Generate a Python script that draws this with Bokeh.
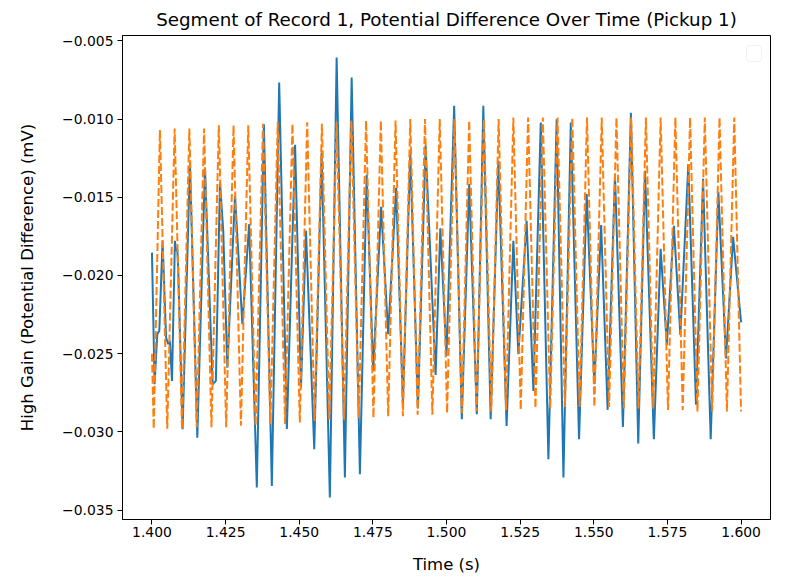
from bokeh.plotting import figure
from bokeh.models import Range1d, FixedTicker, CustomJSTickFormatter, BoxAnnotation
from bokeh.embed import file_html
from bokeh.resources import INLINE

TITLE = "Segment of Record 1, Potential Difference Over Time (Pickup 1)"
X_LABEL = "Time (s)"
Y_LABEL = "High Gain (Potential Difference) (mV)"

x_ticks = [1.400, 1.425, 1.450, 1.475, 1.500, 1.525, 1.550, 1.575, 1.600]
y_ticks = [-0.035, -0.030, -0.025, -0.020, -0.015, -0.010, -0.005]

blue_t = [1.4000, 1.4009, 1.4018, 1.4025, 1.4036, 1.4048, 1.4055, 1.4061, 1.4068, 1.4078,
          1.4082, 1.4086, 1.4089, 1.4104, 1.4129, 1.4154, 1.4180, 1.4206, 1.4217, 1.4231,
          1.4242, 1.4256, 1.4282, 1.4307, 1.4330, 1.4356, 1.4380, 1.4407, 1.4432, 1.4458,
          1.4486, 1.4506, 1.4523, 1.4551, 1.4576, 1.4604, 1.4627, 1.4655, 1.4678, 1.4706,
          1.4729, 1.4751, 1.4778, 1.4802, 1.4829, 1.4852, 1.4877, 1.4903, 1.4929, 1.4963,
          1.4979, 1.5000, 1.5026, 1.5052, 1.5077, 1.5103, 1.5125, 1.5150, 1.5176, 1.5204,
          1.5227, 1.5244, 1.5272, 1.5295, 1.5320, 1.5346, 1.5374, 1.5397, 1.5422, 1.5450,
          1.5476, 1.5502, 1.5525, 1.5547, 1.5572, 1.5599, 1.5626, 1.5651, 1.5674, 1.5704,
          1.5727, 1.5748, 1.5772, 1.5794, 1.5821, 1.5847, 1.5871, 1.5897, 1.5923, 1.5949,
          1.5973, 1.6000]
blue_v = [-0.01854, -0.02695, -0.02375, -0.02354, -0.01779, -0.02397, -0.02439, -0.02418, -0.02674, -0.01779,
          -0.01843, -0.01832, -0.01950, -0.02983, -0.01280, -0.03037, -0.01310, -0.02695, -0.02674, -0.01406,
          -0.01715, -0.02589, -0.01491, -0.02311, -0.01672, -0.03356, -0.01033, -0.03345, -0.00767, -0.02981,
          -0.01165, -0.02717, -0.01715, -0.03111, -0.01214, -0.03420, -0.00607, -0.03292, -0.00735, -0.03271,
          -0.01357, -0.02610, -0.01561, -0.02375, -0.01440, -0.02818, -0.01213, -0.02850, -0.01171, -0.02636,
          -0.01699, -0.02514, -0.00916, -0.02919, -0.01416, -0.02887, -0.00916, -0.02919, -0.01267, -0.02962,
          -0.01779, -0.02503, -0.01651, -0.02738, -0.01022, -0.03175, -0.01001, -0.03292, -0.01022, -0.03047,
          -0.01480, -0.02695, -0.01677, -0.02859, -0.01357, -0.02968, -0.00960, -0.03074, -0.01331, -0.03047,
          -0.01830, -0.02444, -0.01683, -0.02380, -0.01288, -0.02827, -0.01382, -0.03047, -0.01465, -0.02530,
          -0.01753, -0.02300]

# Orange dashed series: crests and troughs
orange_peak_t = [1.4027, 1.4077, 1.4127, 1.4177, 1.4227, 1.4277, 1.4327, 1.4377, 1.4427, 1.4477,
                 1.4527, 1.4577, 1.4627, 1.4677, 1.4727, 1.4777, 1.4827, 1.4877, 1.4927, 1.4977,
                 1.5027, 1.5077, 1.5127, 1.5177, 1.5227, 1.5277, 1.5327, 1.5377, 1.5427, 1.5477,
                 1.5527, 1.5577, 1.5627, 1.5677, 1.5727, 1.5777, 1.5827, 1.5877, 1.5927, 1.5977]
orange_peak_v = [-0.0107, -0.0106, -0.0106, -0.0106, -0.0104, -0.0104, -0.0104, -0.0103, -0.0102, -0.0103,
                 -0.0102, -0.0103, -0.0102, -0.0101, -0.0101, -0.0101, -0.0101, -0.0100, -0.0100, -0.0100,
                 -0.0100, -0.0101, -0.0100, -0.0100, -0.0099, -0.0099, -0.0099, -0.0099, -0.0099, -0.0099,
                 -0.0099, -0.0099, -0.0099, -0.0099, -0.0099, -0.0099, -0.0099, -0.0099, -0.0099, -0.0099]
orange_low_t = [1.4000, 1.4006,
                1.4052, 1.4102, 1.4152, 1.4202, 1.4252, 1.4302, 1.4352, 1.4402, 1.4452, 1.4502,
                1.4552, 1.4602, 1.4652, 1.4702, 1.4752, 1.4802, 1.4852, 1.4902, 1.4952, 1.5002,
                1.5052, 1.5102, 1.5152, 1.5202, 1.5252, 1.5302, 1.5352, 1.5402, 1.5452, 1.5502,
                1.5552, 1.5602, 1.5652, 1.5702, 1.5752, 1.5802, 1.5852, 1.5902, 1.5952,
                1.6000]
orange_low_v = [-0.0250, -0.0298,
                -0.0298, -0.0298, -0.0297, -0.0297, -0.0297, -0.0296, -0.0296, -0.0295, -0.0295, -0.0294,
                -0.0293, -0.0292, -0.0292, -0.0291, -0.0291, -0.0290, -0.0290, -0.0289, -0.0289, -0.0288,
                -0.0288, -0.0287, -0.0287, -0.0286, -0.0286, -0.0285, -0.0285, -0.0284, -0.0284, -0.0284,
                -0.0284, -0.0285, -0.0285, -0.0285, -0.0286, -0.0286, -0.0287, -0.0287, -0.0287,
                -0.0287]

orange_pts = sorted(list(zip(orange_peak_t, orange_peak_v)) + list(zip(orange_low_t, orange_low_v)))
orange_t = [a for a, b in orange_pts]
orange_v = [b for a, b in orange_pts]

FONT = "DejaVu Sans"

p = figure(width=811, height=577, output_backend="svg", toolbar_location=None,
           x_range=Range1d(1.39, 1.61), y_range=Range1d(-0.0356, -0.00466),
           min_border_left=122, min_border_right=41, min_border_top=35, min_border_bottom=58,
           title=TITLE)
p.background_fill_color = "white"
p.border_fill_color = "white"
p.title.text_font = FONT
p.title.text_font_size = "18.3px"
p.title.text_font_style = "normal"
p.title.text_color = "black"
p.title.align = "center"
p.title.standoff = 11

p.grid.visible = False
p.outline_line_color = "black"
p.outline_line_width = 1
p.outline_line_alpha = 1

fmt = CustomJSTickFormatter(code="return (tick < 0 ? '\\u2212' : '') + Math.abs(tick).toFixed(3);")

p.xaxis.ticker = FixedTicker(ticks=x_ticks)
p.yaxis.ticker = FixedTicker(ticks=y_ticks)
p.xaxis.axis_label = X_LABEL
p.yaxis.axis_label = Y_LABEL
for ax in (p.xaxis[0], p.yaxis[0]):
    ax.formatter = fmt
    ax.major_tick_out = 5
    ax.major_tick_in = 0
    ax.minor_tick_out = 0
    ax.minor_tick_in = 0
    ax.axis_line_color = "black"
    ax.major_tick_line_color = "black"
    ax.major_label_text_font = FONT
    ax.major_label_text_font_size = "13.9px"
    ax.major_label_text_color = "black"
    ax.axis_label_text_font = FONT
    ax.axis_label_text_font_size = "16.5px"
    ax.axis_label_text_font_style = "normal"
    ax.axis_label_text_color = "black"
p.xaxis.major_label_standoff = 2
p.yaxis.major_label_standoff = 4
p.xaxis.axis_label_standoff = 15
p.yaxis.axis_label_standoff = 22

p.line(blue_t, blue_v, line_color="#1f77b4", line_width=2)
p.line(orange_t, orange_v, line_color="#ff7f0e", line_width=2, line_dash="8 3")

legend_box = BoxAnnotation(left=624, right=639, top=474, bottom=458,
                           left_units="screen", right_units="screen",
                           top_units="screen", bottom_units="screen",
                           fill_color="white", fill_alpha=0.8,
                           line_color="#cccccc", line_width=1, border_radius=3)
p.add_layout(legend_box)

open("out.html", "w").write(file_html(p, INLINE))
